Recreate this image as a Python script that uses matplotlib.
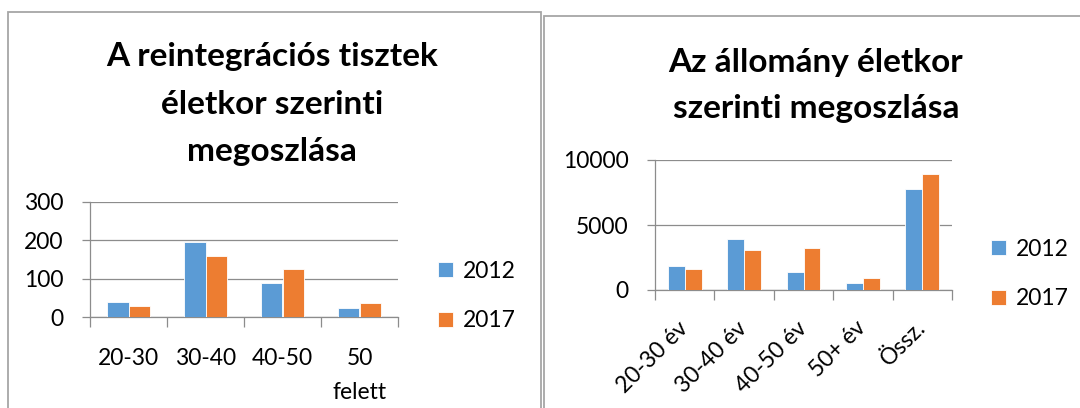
import numpy as np
import matplotlib
matplotlib.use("Agg")
import matplotlib.pyplot as plt
from matplotlib.patches import Rectangle

plt.rcParams["font.family"] = ["Lato", "DejaVu Sans"]

# ---------------- data ----------------
series = ["2012", "2017"]

left_title = "A reintegrációs tisztek\néletkor szerinti\nmegoszlása"
left_cats = ["20-30", "30-40", "40-50", "50\nfelett"]
left_2012 = [40, 196, 88, 23]
left_2017 = [29, 158, 124, 37]
left_ticks = [0, 100, 200, 300]

right_title = "Az állomány életkor\nszerinti megoszlása"
right_cats = ["20-30 év", "30-40 év", "40-50 év", "50+ év", "Össz."]
right_2012 = [1840, 3910, 1400, 520, 7770]
right_2017 = [1580, 3110, 3210, 910, 8890]
right_ticks = [0, 5000, 10000]

BLUE = "#5B9BD5"
ORANGE = "#ED7D31"
GRID = "#8C8C8C"
FS = 16.5

W, H = 1080, 408


def px(x0, y0, w, h):
    # pixel box (top-left origin) -> figure fraction
    return [x0 / W, 1 - (y0 + h) / H, w / W, h / H]


def bar_chart(ax, cats, v1, v2, ticks, legend_at, rotate=False):
    x = np.arange(len(cats))
    bw = 0.285
    ax.bar(x - bw / 2, v1, bw, color=BLUE, edgecolor="white", linewidth=0.6, label=series[0], zorder=3)
    ax.bar(x + bw / 2, v2, bw, color=ORANGE, edgecolor="white", linewidth=0.6, label=series[1], zorder=3)
    ax.set_xlim(-0.5, len(cats) - 0.5)
    ax.set_ylim(ticks[0], ticks[-1])
    ax.set_yticks(ticks)
    ax.yaxis.grid(True, color=GRID, linewidth=0.9, zorder=0)
    for s in ["top", "right"]:
        ax.spines[s].set_visible(False)
    for s in ["left", "bottom"]:
        ax.spines[s].set_color(GRID)
        ax.spines[s].set_linewidth(0.9)
    ax.tick_params(axis="y", length=6, width=0.9, color=GRID, pad=13, labelsize=FS)
    # category boundaries as minor ticks, labels at centres
    ax.set_xticks(np.arange(len(cats) + 1) - 0.5, minor=True)
    ax.tick_params(axis="x", which="minor", length=7, width=0.9, color=GRID)
    ax.set_xticks(x)
    if rotate:
        ax.set_xticklabels(cats, rotation=45, ha="right", va="center", rotation_mode="anchor")
        ax.tick_params(axis="x", which="major", length=0, pad=25, labelsize=FS)
    else:
        ax.set_xticklabels(cats, linespacing=1.8)
        ax.tick_params(axis="x", which="major", length=0, pad=22, labelsize=FS)
    ax.legend(loc="center left", bbox_to_anchor=(legend_at[0] / W, 1 - legend_at[1] / H),
              bbox_transform=ax.figure.transFigure, frameon=False, fontsize=FS, borderpad=0,
              handlelength=0.65, handleheight=0.65, handletextpad=0.4, labelspacing=1.25)


fig = plt.figure(figsize=(W / 100, H / 100), dpi=100)

# panel frames
fig.patches.append(Rectangle((8 / W, -0.1), (541 - 8) / W, 1.1 - 12 / H,
                             transform=fig.transFigure, fill=False, edgecolor="#A6A6A6", linewidth=1.3))
fig.patches.append(Rectangle((544 / W, -0.1), 0.5, 1.1 - 16 / H,
                             transform=fig.transFigure, fill=False, edgecolor="#A6A6A6", linewidth=1.3))

ax1 = fig.add_axes(px(90, 202, 308, 115))
bar_chart(ax1, left_cats, left_2012, left_2017, left_ticks, legend_at=(427, 296))

ax2 = fig.add_axes(px(655, 160, 297, 130))
bar_chart(ax2, right_cats, right_2012, right_2017, right_ticks, legend_at=(980, 274), rotate=True)

fig.text(272 / W, 1 - 42 / H, left_title, ha="center", va="top", ma="center",
         fontsize=24, fontweight="bold", linespacing=1.78)
fig.text(816 / W, 1 - 48 / H, right_title, ha="center", va="top", ma="center",
         fontsize=24, fontweight="bold", linespacing=1.72)

fig.savefig("out.png", dpi=100)
